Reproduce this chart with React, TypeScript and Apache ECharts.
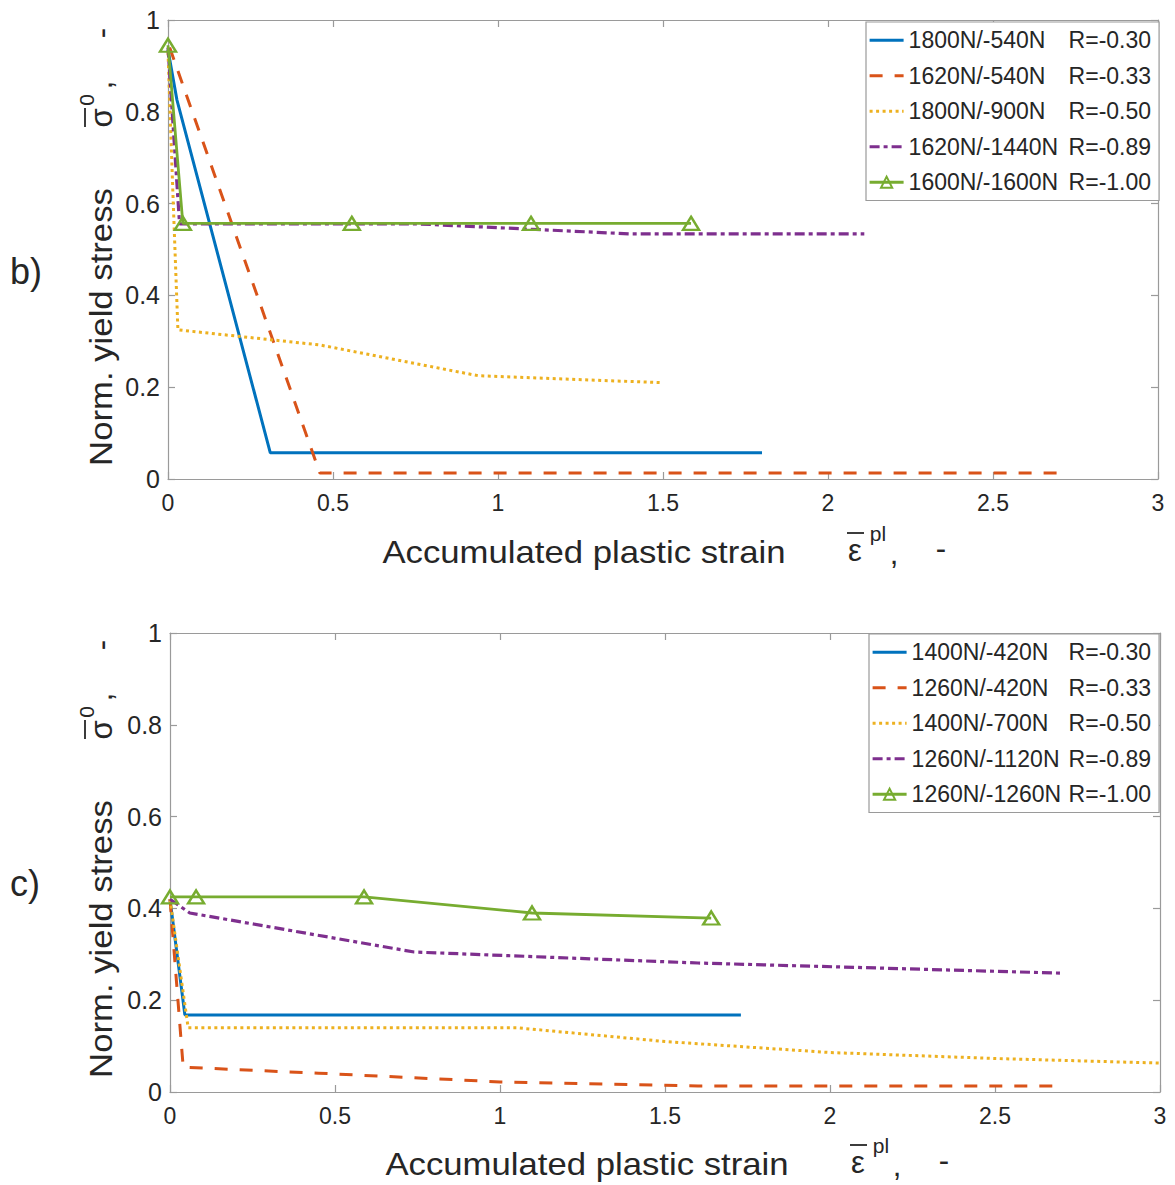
import React, { useEffect, useRef } from "react";
import * as echarts from "echarts";

// Axis ticks shared by both panels
const xTickValues = [0, 0.5, 1, 1.5, 2, 2.5, 3];
const yTickValues = [0, 0.2, 0.4, 0.6, 0.8, 1];

// Panel b) – load cases and their load ratios
const bNames = ["1800N/-540N", "1620N/-540N", "1800N/-900N", "1620N/-1440N", "1600N/-1600N"];
const bRatios = ["-0.30", "-0.33", "-0.50", "-0.89", "-1.00"];
const b1800_540 = [[0, 0.935], [0.027, 0.826], [0.31, 0.057], [1.8, 0.057]];
const b1620_540 = [[0.005, 0.94], [0.46, 0.013], [2.72, 0.013]];
const b1800_900 = [[0, 0.93], [0.015, 0.62], [0.03, 0.325], [0.46, 0.292], [0.94, 0.225], [1.49, 0.21]];
const b1620_1440 = [[0, 0.94], [0.035, 0.556], [0.75, 0.556], [1.4, 0.534], [2.11, 0.534]];
const b1600_1600 = [[0, 0.945], [0.045, 0.557], [0.557, 0.557], [1.1, 0.557], [1.585, 0.557]];

// Panel c) – load cases and their load ratios
const cNames = ["1400N/-420N", "1260N/-420N", "1400N/-700N", "1260N/-1120N", "1260N/-1260N"];
const cRatios = ["-0.30", "-0.33", "-0.50", "-0.89", "-1.00"];
const c1400_420 = [[0, 0.42], [0.045, 0.168], [1.73, 0.168]];
const c1260_420 = [[0, 0.42], [0.04, 0.054], [0.45, 0.041], [1.0, 0.022], [1.6, 0.013], [2.69, 0.013]];
const c1400_700 = [[0, 0.42], [0.055, 0.14], [1.05, 0.14], [1.5, 0.11], [2.0, 0.086], [2.5, 0.073], [3.0, 0.063]];
const c1260_1120 = [[0, 0.42], [0.06, 0.39], [0.74, 0.305], [1.6, 0.281], [2.7, 0.259]];
const c1260_1260 = [[0, 0.425], [0.079, 0.425], [0.588, 0.425], [1.097, 0.39], [1.64, 0.379]];

const bData = [b1800_540, b1620_540, b1800_900, b1620_1440, b1600_1600];
const cData = [c1400_420, c1260_420, c1400_700, c1260_1120, c1260_1260];

const FONT = "'Liberation Sans', Arial, Helvetica, sans-serif";
const TEXT = "#262626";
const AXIS = "#9a9a9a";
const MARKER_SERIES = 4;

const lineStyles = [
  { color: "#0072BD", type: "solid" as any, width: 3 },
  { color: "#D95319", type: [13, 12] as any, width: 3 },
  { color: "#EDB120", type: [3, 3.5] as any, width: 3 },
  { color: "#7E2F8E", type: [10, 4, 4, 4] as any, width: 3.2 },
  { color: "#77AC30", type: "solid" as any, width: 2.8 },
];

function makeSeries(names: string[], data: number[][][], axisIdx: number) {
  return names.map((name, i) => {
    const st = lineStyles[i];
    const withMarkers = i === MARKER_SERIES;
    return {
      name,
      type: "line",
      xAxisIndex: axisIdx,
      yAxisIndex: axisIdx,
      data: data[i],
      symbol: withMarkers ? "triangle" : "none",
      symbolSize: withMarkers ? [16, 13] : 0,
      showSymbol: withMarkers,
      itemStyle: withMarkers
        ? { color: "rgba(255,255,255,0)", borderColor: st.color, borderWidth: 2.4 }
        : { color: st.color },
      lineStyle: { color: st.color, width: st.width, type: st.type, cap: "butt" },
      z: 2 + i,
    };
  });
}

function axesFor(grid: number) {
  const min = xTickValues[0];
  const max = xTickValues[xTickValues.length - 1];
  const interval = xTickValues[1] - xTickValues[0];
  const ymin = yTickValues[0];
  const ymax = yTickValues[yTickValues.length - 1];
  const yint = yTickValues[1] - yTickValues[0];
  const line = { show: true, onZero: false, lineStyle: { color: AXIS, width: 1.2 } };
  const tick = { show: true, inside: true, length: 7, lineStyle: { color: AXIS, width: 1.2 } };
  const x = [
    {
      type: "value", gridIndex: grid, position: "bottom", min, max, interval,
      axisLine: line, axisTick: tick, splitLine: { show: false },
      axisLabel: { color: TEXT, fontSize: 23, fontFamily: FONT, margin: 12 },
    },
    {
      type: "value", gridIndex: grid, position: "top", min, max, interval,
      axisLine: line, axisTick: tick, splitLine: { show: false },
      axisLabel: { show: false },
    },
  ];
  const y = [
    {
      type: "value", gridIndex: grid, position: "left", min: ymin, max: ymax, interval: yint,
      axisLine: line, axisTick: tick, splitLine: { show: false },
      axisLabel: { color: TEXT, fontSize: 25, fontFamily: FONT, margin: 8 },
    },
    {
      type: "value", gridIndex: grid, position: "right", min: ymin, max: ymax, interval: yint,
      axisLine: line, axisTick: tick, splitLine: { show: false },
      axisLabel: { show: false },
    },
  ];
  return { x, y };
}

function legendFor(names: string[], ratios: string[], left: number, top: number, colWidth: number) {
  return {
    orient: "vertical",
    left,
    top,
    // only the marker series shows its symbol in the legend sample
    data: names.map((name, i) =>
      i === MARKER_SERIES
        ? { name, lineStyle: { width: lineStyles[i].width } }
        : { name, itemStyle: { opacity: 0, borderWidth: 0 }, lineStyle: { width: lineStyles[i].width } }
    ),
    itemWidth: 34,
    itemHeight: 14,
    itemGap: 9,
    padding: [5, 8, 5, 2],
    backgroundColor: "#ffffff",
    borderColor: AXIS,
    borderWidth: 1.2,
    borderRadius: 0,
    selectedMode: false,
    formatter: (name: string) => `{a|${name}}{b|R=${ratios[names.indexOf(name)]}}`,
    textStyle: {
      color: TEXT,
      fontFamily: FONT,
      fontSize: 23,
      lineHeight: 26.5,
      rich: {
        a: { width: colWidth, fontSize: 23, fontFamily: FONT, color: TEXT, lineHeight: 26.5 },
        b: { fontSize: 23, fontFamily: FONT, color: TEXT, lineHeight: 26.5 },
      },
    },
  };
}

function txt(text: string, x: number, y: number, fontSize: number, opts: any = {}) {
  return {
    type: "text",
    x,
    y,
    rotation: opts.rotation || 0,
    scaleX: opts.scaleX || 1,
    silent: true,
    style: {
      text,
      fill: TEXT,
      fontSize,
      fontFamily: FONT,
      align: opts.align || "center",
      verticalAlign: "middle",
      textAlign: opts.align || "center",
      textVerticalAlign: "middle",
    },
  };
}

function bar(x1: number, y1: number, x2: number, y2: number) {
  return {
    type: "line",
    silent: true,
    shape: { x1, y1, x2, y2 },
    style: { stroke: TEXT, lineWidth: 1.8 },
  };
}

// Panel letter, rotated y-axis title with σ̄⁰ and x-axis title with ε̄ᵖˡ
function panelDecor(letter: string, dy: number, dx: number) {
  const r = Math.PI / 2;
  return [
    txt(letter, 10, 271 + dy, 36, { align: "left" }),
    txt("Norm. yield stress", 101, 327 + dy, 31, { rotation: r, scaleX: 1.12 }),
    txt("σ", 101, 118 + dy, 31, { rotation: r }),
    bar(85, 108 + dy, 85, 127 + dy),
    txt("0", 86, 100 + dy, 21, { rotation: r }),
    txt(",", 101, 85 + dy, 31, { rotation: r }),
    txt("-", 101, 33 + dy, 31, { rotation: r }),
    txt("Accumulated plastic strain", 584 + dx, 552 + dy, 31, { scaleX: 1.12 }),
    txt("ε", 855 + dx, 550 + dy, 31),
    bar(847 + dx, 533 + dy, 864 + dx, 533 + dy),
    txt("pl", 878 + dx, 533 + dy, 21),
    txt(",", 894 + dx, 553 + dy, 31),
    txt("-", 941 + dx, 548 + dy, 31),
  ];
}

export default function App() {
  const ref = useRef<HTMLDivElement>(null);

  useEffect(() => {
    if (!ref.current) return;
    const chart = echarts.init(ref.current, undefined, { renderer: "svg" });
    const top = axesFor(0);
    const bottom = axesFor(1);
    chart.setOption({
      animation: false,
      backgroundColor: "#ffffff",
      grid: [
        { left: 168, top: 20, width: 990, height: 459 },
        { left: 170, top: 633, width: 990, height: 459 },
      ],
      xAxis: [...top.x, ...bottom.x],
      yAxis: [...top.y, ...bottom.y],
      legend: [
        legendFor(bNames, bRatios, 866, 22, 160),
        legendFor(cNames, cRatios, 869, 634, 157),
      ],
      series: [...makeSeries(bNames, bData, 0), ...makeSeries(cNames, cData, 2)],
      graphic: { elements: [...panelDecor("b)", 0, 0), ...panelDecor("c)", 612, 3)] },
    });
    return () => chart.dispose();
  }, []);

  return (
    <div
      ref={ref}
      style={{ position: "absolute", left: 0, top: 0, width: 1175, height: 1185, background: "#fff" }}
    />
  );
}
